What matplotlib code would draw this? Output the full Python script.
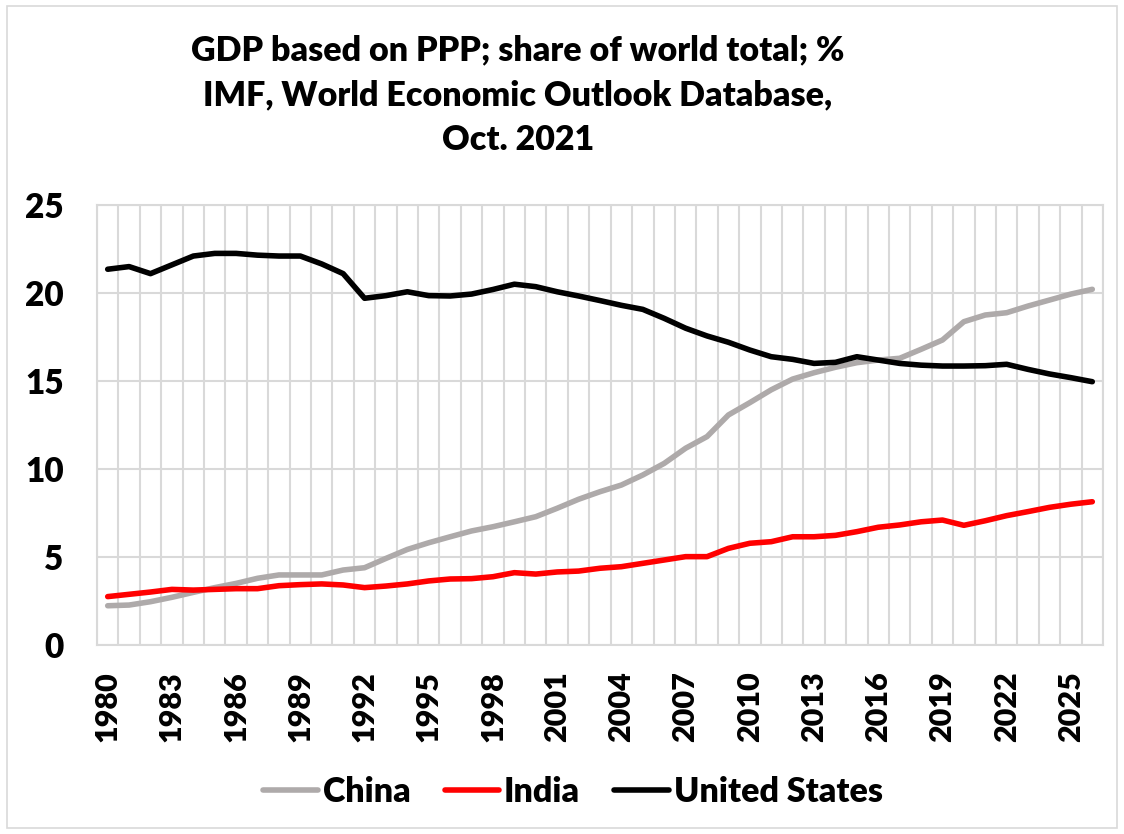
import numpy as np
import matplotlib
matplotlib.use("Agg")
import matplotlib.pyplot as plt
from matplotlib.patches import Rectangle

plt.rcParams['font.family'] = ['Lato', 'DejaVu Sans']
plt.rcParams['font.weight'] = 'heavy'

# data: GDP (PPP) share of world total, %
years = np.arange(1980, 2027)
china = [2.23, 2.27, 2.46, 2.71, 2.99, 3.26, 3.50, 3.79, 3.98, 3.98,
         3.98, 4.26, 4.39, 4.92, 5.43, 5.81, 6.15, 6.48, 6.72, 7.00,
         7.29, 7.77, 8.28, 8.71, 9.09, 9.66, 10.32, 11.18, 11.84, 13.07,
         13.77, 14.50, 15.11, 15.47, 15.78, 16.04, 16.19, 16.29, 16.80, 17.33,
         18.37, 18.75, 18.88, 19.26, 19.60, 19.94, 20.21]
india = [2.75, 2.88, 3.01, 3.16, 3.12, 3.16, 3.20, 3.20, 3.37, 3.43,
         3.47, 3.41, 3.26, 3.35, 3.47, 3.64, 3.75, 3.77, 3.88, 4.11,
         4.03, 4.15, 4.20, 4.36, 4.45, 4.64, 4.83, 5.02, 5.02, 5.49,
         5.78, 5.87, 6.15, 6.15, 6.23, 6.44, 6.69, 6.82, 7.00, 7.10,
         6.80, 7.06, 7.35, 7.58, 7.82, 8.00, 8.14]
usa = [21.35, 21.50, 21.10, 21.60, 22.10, 22.25, 22.25, 22.15, 22.10, 22.10,
       21.65, 21.10, 19.70, 19.85, 20.07, 19.85, 19.83, 19.94, 20.20, 20.50,
       20.36, 20.07, 19.83, 19.57, 19.30, 19.07, 18.56, 18.00, 17.56, 17.20,
       16.76, 16.38, 16.23, 16.00, 16.06, 16.38, 16.19, 16.00, 15.90, 15.85,
       15.85, 15.87, 15.95, 15.66, 15.40, 15.19, 14.96]

grid_col = '#D9D9D9'

fig = plt.figure(figsize=(11.24, 8.34), dpi=100)
ax = fig.add_axes([97/1124, 1-645/834, (1103-97)/1124, (645-205)/834])

x = np.arange(len(years))
ax.plot(x, china, color='#AEAAAA', lw=4, solid_capstyle='round', label='China')
ax.plot(x, india, color='#FF0000', lw=4, solid_capstyle='round', label='India')
ax.plot(x, usa, color='black', lw=4, solid_capstyle='round', label='United States')

ax.set_xlim(-0.5, len(years) - 0.5)
ax.set_ylim(0, 25)
ax.set_yticks(np.arange(0, 26, 5))
ax.set_xticks(x[::3])
ax.set_xticklabels([str(y) for y in years[::3]], rotation=90)
ax.set_xticks(np.arange(-0.5, len(years)), minor=True)
ax.grid(True, which='minor', axis='x', color=grid_col, lw=1.5)
ax.grid(True, which='major', axis='y', color=grid_col, lw=1.5)
ax.set_axisbelow(True)
ax.tick_params(which='both', length=0)
ax.tick_params(axis='y', labelsize=24, pad=24)
ax.tick_params(axis='x', labelsize=22, pad=19)
for s in ax.spines.values():
    s.set_color(grid_col)
    s.set_linewidth(1.5)

fig.text(518/1124, 1-95/834,
         "GDP based on PPP; share of world total; %\nIMF, World Economic Outlook Database,\nOct. 2021",
         ha='center', va='center', fontsize=24.5, linespacing=1.5)

fig.legend(loc='center', bbox_to_anchor=(573/1124, 1-792/834), ncol=3, frameon=False,
           fontsize=24.5, handlelength=1.6, handletextpad=0.15, columnspacing=1.0)

# chart area border
fig.patches.append(Rectangle((7/1124, 6/834), 1110/1124, 822/834, transform=fig.transFigure,
                             fill=False, edgecolor=grid_col, lw=1.2))

fig.savefig('out.png', dpi=100)
